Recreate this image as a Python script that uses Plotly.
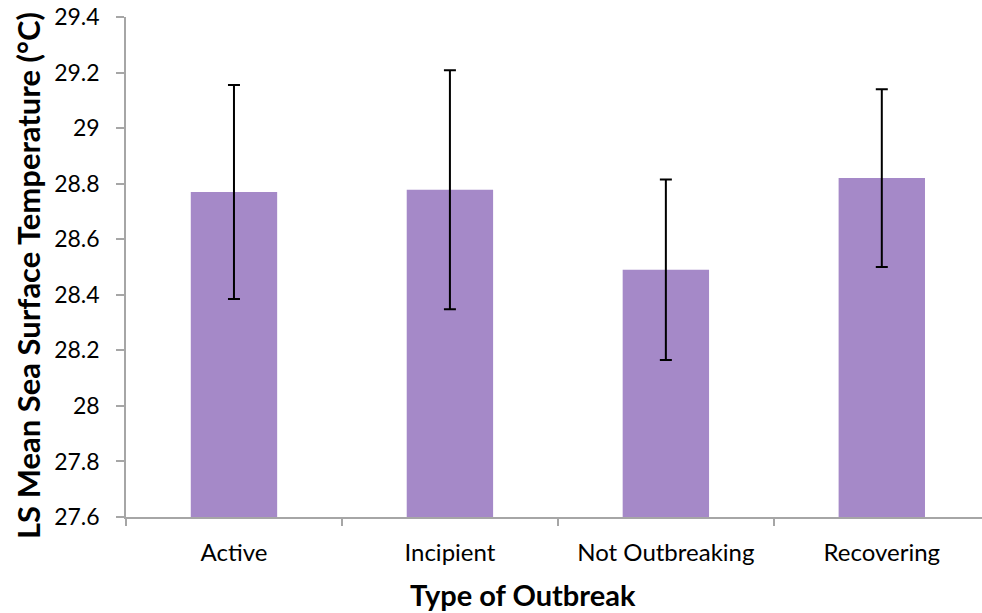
import plotly.graph_objects as go

# Outbreak categories and least-squares mean SST with error margins
categories = ["Active", "Incipient", "Not Outbreaking", "Recovering"]
mean_sst = [28.770, 28.778, 28.490, 28.820]
err_sst = [0.385, 0.430, 0.325, 0.320]

y_tickvals = [27.6, 27.8, 28.0, 28.2, 28.4, 28.6, 28.8, 29.0, 29.2, 29.4]
y_ticktext = ["27.6", "27.8", "28", "28.2", "28.4", "28.6", "28.8", "29", "29.2", "29.4"]

axis_grey = "#a6a6a6"
font_family = "Lato, 'Open Sans', sans-serif"

# plot area in pixels: x 126..982, y 17..517
PX_L, PX_W, PX_T, PX_H = 126, 856, 17, 500

fig = go.Figure()
fig.add_trace(go.Bar(
    x=categories,
    y=mean_sst,
    base=0,
    width=0.40,
    marker=dict(color="#a589c8", line=dict(width=0)),
    error_y=dict(type="data", array=err_sst, visible=True,
                 color="black", thickness=2, width=6),
))

fig.update_layout(
    width=982, height=613,
    margin=dict(l=PX_L, r=0, t=PX_T, b=613 - PX_T - PX_H),
    plot_bgcolor="white", paper_bgcolor="white",
    showlegend=False,
    font=dict(family=font_family, color="black"),
    xaxis=dict(
        type="category",
        range=[-0.5, 3.464],
        showline=True, linecolor=axis_grey, linewidth=1.5,
        ticks="outside", tickson="boundaries", ticklen=7,
        tickcolor=axis_grey, tickwidth=1.5,
        showgrid=False, zeroline=False,
        tickfont=dict(size=24, color="black"),
        ticklabelstandoff=13,
    ),
    yaxis=dict(
        range=[27.6, 29.4],
        tickvals=y_tickvals, ticktext=y_ticktext,
        showline=True, linecolor=axis_grey, linewidth=1.5,
        ticks="outside", ticklen=8, tickcolor=axis_grey, tickwidth=1.5,
        showgrid=False, zeroline=False,
        tickfont=dict(size=23, color="black"),
        ticklabelstandoff=12,
    ),
    annotations=[
        dict(text="<b>Type of Outbreak</b>",
             x=(523 - PX_L) / PX_W, y=(PX_T + PX_H - 594) / PX_H,
             xref="paper", yref="paper", xanchor="center", yanchor="middle",
             showarrow=False, font=dict(size=29, color="black")),
        dict(text="<b>LS Mean Sea Surface Temperature (°C)</b>",
             x=(28 - PX_L) / PX_W, y=(PX_T + PX_H - 276) / PX_H,
             xref="paper", yref="paper", xanchor="center", yanchor="middle",
             textangle=-90, showarrow=False,
             font=dict(size=31, color="black")),
    ],
)

fig.write_html("out.html")
